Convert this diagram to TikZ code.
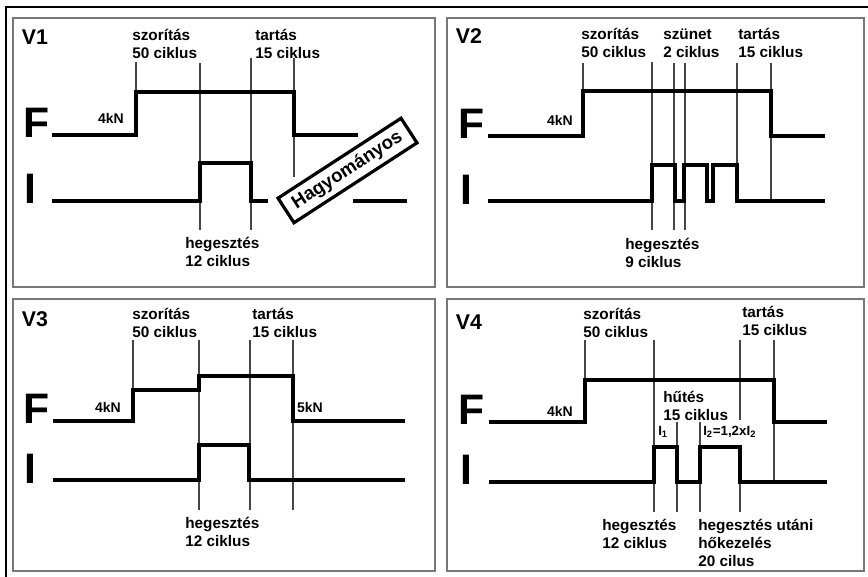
\documentclass[tikz,border=0pt]{standalone}
\usepackage{fontspec}
\setmainfont{Liberation Sans}
\usetikzlibrary{positioning}
\definecolor{cFrame}{RGB}{120,120,120}
\definecolor{cGuide}{RGB}{70,70,70}
\tikzset{
    panel/.style={draw=cFrame, line width=1.4pt},
    signal/.style={draw=black, line width=2.6pt, line join=miter},
    guide/.style={draw=cGuide, line width=0.8pt},
    lab/.style={font=\bfseries\fontsize{11.5}{13.5}\selectfont,
        align=left, inner sep=0pt, anchor=west},
    sublab/.style={font=\bfseries\fontsize{10}{12}\selectfont,
        inner sep=0pt, anchor=west},
    kn/.style={font=\bfseries\fontsize{10.5}{12}\selectfont, inner sep=0pt},
    vlab/.style={font=\bfseries\fontsize{16}{18}\selectfont, inner sep=0pt},
    axlab/.style={font=\bfseries\fontsize{32}{34}\selectfont, inner sep=0pt},
    tag/.style={draw=black, line width=2.4pt, fill=white, rotate=33,
        font=\bfseries\fontsize{14}{16}\selectfont,
        minimum width=110pt, minimum height=22pt, inner sep=2pt},
}

\begin{document}
\begin{tikzpicture}[x=0.75pt, y=-0.75pt]
\useasboundingbox (0,0) rectangle (868,577);

% outer frame (only top and left edges are visible)
\draw[line width=1.5pt] (6,577) -- (6,7) -- (868,7);

% ============================================================
%  V1: conventional cycle
% ============================================================
\draw[panel] (13,18) rectangle (435,287);
\node[vlab] (v1) at (35,37) {V1};
\node[axlab] (F1) at (36.5,122.5) {F};
\node[axlab] (I1) at (30,189) {I};
\node[kn] (kN1) at (111,118.5) {4kN};

\draw[guide] (136,62) -- (136,92);
\draw[guide] (200,63) -- (200,230);
\draw[guide] (251,58) -- (251,230);
\draw[guide] (294,58) -- (294,177);

\draw[signal] (52,135) -- (136,135) -- (136,92) -- (294,92)
    -- (294,135) -- (358,135);
\draw[signal] (52,201) -- (200,201) -- (200,163) -- (251,163)
    -- (251,201) -- (268,201);
\draw[signal] (353,201) -- (407,201);

\node[lab] (clamp1) at (132,44) {szorítás\\50 ciklus};
\node[lab] (hold1) at (255,44) {tartás\\15 ciklus};
\node[lab] (weld1) at (185,252) {hegesztés\\12 ciklus};

\node[tag] (trad) at (347.5,170.5) {Hagyományos};

% ============================================================
%  V2: split welding pulses
% ============================================================
\draw[panel] (447,18) rectangle (864,287);
\node[vlab] (v2) at (469,36) {V2};
\node[axlab] (F2) at (472,123.5) {F};
\node[axlab] (I2) at (466,190) {I};
\node[kn] (kN2) at (560,120) {4kN};

\draw[guide] (583,63) -- (583,91);
\draw[guide] (652,62) -- (652,230);
\draw[guide] (674,63) -- (674,230);
\draw[guide] (685,63) -- (685,230);
\draw[guide] (737,63) -- (737,165);
\draw[guide] (771,63) -- (771,201);

\draw[signal] (488,136) -- (583,136) -- (583,91) -- (771,91)
    -- (771,136) -- (825,136);
\draw[signal] (488,201) -- (652,201) -- (652,165) -- (675,165)
    -- (675,201) -- (684,201) -- (684,165) -- (707,165)
    -- (707,201) -- (713,201) -- (713,165) -- (737,165)
    -- (737,201) -- (825,201);

\node[lab] (clamp2) at (581,43) {szorítás\\50 ciklus};
\node[lab] (pause2) at (663,43) {szünet\\2 ciklus};
\node[lab] (hold2) at (738,43) {tartás\\15 ciklus};
\node[lab] (weld2) at (625,253) {hegesztés\\9 ciklus};

% ============================================================
%  V3: two-step electrode force
% ============================================================
\draw[panel] (13,299) rectangle (435,571);
\node[vlab] (v3) at (35,319) {V3};
\node[axlab] (F3) at (36.5,408.5) {F};
\node[axlab] (I3) at (30,469) {I};
\node[kn] (kN3) at (108,407) {4kN};
\node[kn] (kN3b) at (310,407) {5kN};

\draw[guide] (133,340) -- (133,390);
\draw[guide] (199,340) -- (199,510);
\draw[guide] (250,340) -- (250,510);
\draw[guide] (293,340) -- (293,510);

\draw[signal] (53,421) -- (133,421) -- (133,390) -- (199,390)
    -- (199,376) -- (293,376) -- (293,421) -- (405,421);
\draw[signal] (53,480) -- (199,480) -- (199,445) -- (249,445)
    -- (249,480) -- (405,480);

\node[lab] (clamp3) at (132,323) {szorítás\\50 ciklus};
\node[lab] (hold3) at (252,323) {tartás\\15 ciklus};
\node[lab] (weld3) at (185,532) {hegesztés\\12 ciklus};

% ============================================================
%  V4: weld + post-weld heat treatment pulse
% ============================================================
\draw[panel] (447,299) rectangle (864,571);
\node[vlab] (v4) at (469,322) {V4};
\node[axlab] (F4) at (472,409.5) {F};
\node[axlab] (I4) at (466,470) {I};
\node[kn] (kN4) at (560,411) {4kN};

\draw[guide] (585,340) -- (585,380);
\draw[guide] (654,340) -- (654,512);
\draw[guide] (677,422) -- (677,512);
\draw[guide] (700,422) -- (700,512);
\draw[guide] (740,340) -- (740,420);
\draw[guide] (740,447) -- (740,512);
\draw[guide] (774,340) -- (774,482);

\draw[signal] (489,422) -- (585,422) -- (585,380) -- (774,380)
    -- (774,422) -- (827,422);
\draw[signal] (489,482) -- (654,482) -- (654,447) -- (677,447)
    -- (677,482) -- (700,482) -- (700,447) -- (740,447)
    -- (740,482) -- (827,482);

\node[lab] (clamp4) at (583,323) {szorítás\\50 ciklus};
\node[lab] (hold4) at (742,321) {tartás\\15 ciklus};
\node[lab] (cool4) at (663,406) {hűtés\\15 ciklus};
\node[sublab] (cur1) at (658,432) {I\textsubscript{1}};
\node[sublab] (cur2) at (703,432) {I\textsubscript{2}=1,2xI\textsubscript{2}};
\node[lab] (weld4) at (602,534) {hegesztés\\12 ciklus};
\node[lab] (post4) at (698,543) {hegesztés utáni\\hőkezelés\\20 cilus};

\end{tikzpicture}
\end{document}
